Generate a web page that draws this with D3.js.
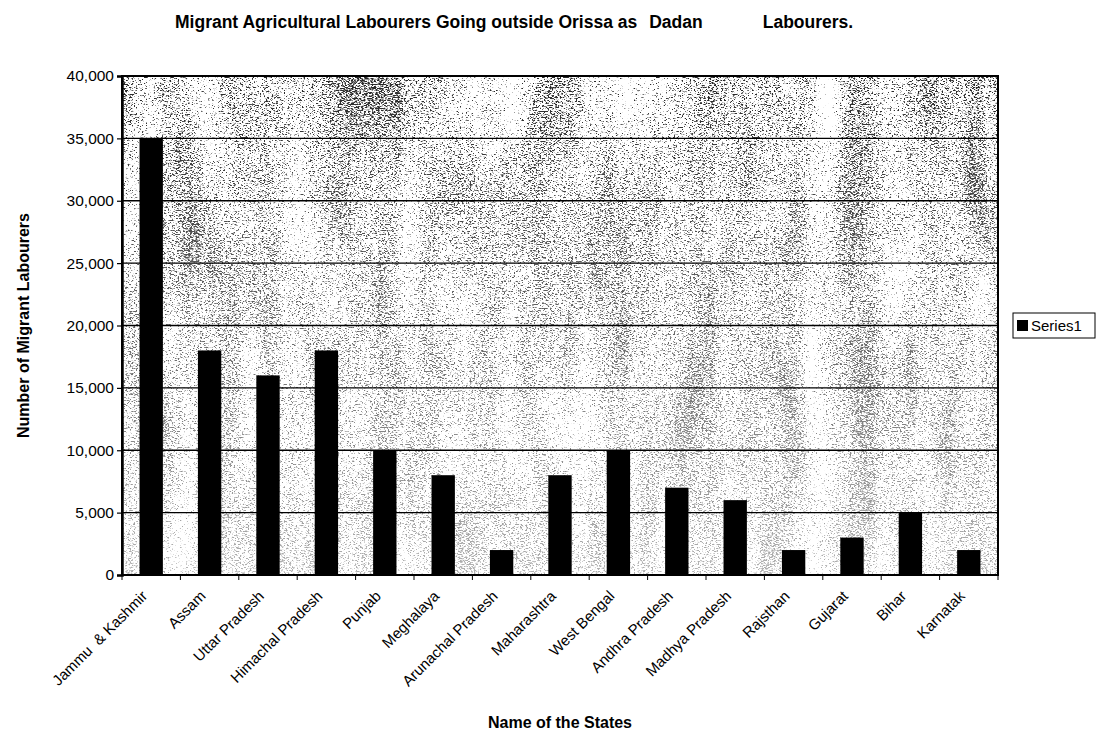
<!DOCTYPE html>
<html>
<head>
<meta charset="utf-8">
<script src="https://cdn.jsdelivr.net/npm/d3@7"></script>
<style>
  html, body { margin: 0; padding: 0; background: #fff; }
  svg { display: block; font-family: "Liberation Sans", Arial, sans-serif; }
</style>
</head>
<body>
<svg id="chart" width="1106" height="733"></svg>
<script>
// Migrant agricultural labourers by destination state
const states = ["Jammu  & Kashmir", "Assam", "Uttar Pradesh", "Himachal Pradesh", "Punjab",
  "Meghalaya", "Arunachal Pradesh", "Maharashtra", "West Bengal", "Andhra Pradesh",
  "Madhya Pradesh", "Rajsthan", "Gujarat", "Bihar", "Karnatak"];
const labourers = [35000, 18000, 16000, 18000, 10000, 8000, 2000, 8000, 10000, 7000, 6000, 2000, 3000, 5000, 2000];
const yTicks = [0, 5000, 10000, 15000, 20000, 25000, 30000, 35000, 40000];
const seriesName = "Series1";
const titleParts = ["Migrant Agricultural Labourers Going outside Orissa as", "Dadan", "Labourers."];

const svg = d3.select("#chart");
const plot = { left: 122, right: 998, top: 76, bottom: 575 };

// grainy halftone fill for the plot area: fine streaky noise, lightly modulated
const defs = svg.append("defs");
const f = defs.append("filter").attr("id", "grain")
  .attr("x", 0).attr("y", 0).attr("width", 1).attr("height", 1)
  .attr("color-interpolation-filters", "sRGB");
f.append("feTurbulence").attr("type", "fractalNoise").attr("baseFrequency", "0.5 1.3")
  .attr("numOctaves", 2).attr("seed", 5).attr("result", "fine");
f.append("feTurbulence").attr("type", "fractalNoise").attr("baseFrequency", "0.025 0.006")
  .attr("numOctaves", 2).attr("seed", 17).attr("result", "coarse");
f.append("feComposite").attr("in", "fine").attr("in2", "coarse").attr("operator", "arithmetic")
  .attr("k1", 0).attr("k2", 0.75).attr("k3", 0.26).attr("k4", 0).attr("result", "mix");
f.append("feColorMatrix").attr("in", "mix").attr("type", "matrix")
  .attr("values", "0 0 0 0 0  0 0 0 0 0  0 0 0 0 0  9 0 0 0 -4.75").attr("result", "dots");
f.append("feComposite").attr("in", "SourceGraphic").attr("in2", "dots").attr("operator", "in");

// heavier grain toward the top of the plot
const grad = defs.append("linearGradient").attr("id", "grainFade")
  .attr("x1", 0).attr("y1", 0).attr("x2", 0).attr("y2", 1);
grad.append("stop").attr("offset", "0%").attr("stop-color", "#000").attr("stop-opacity", 0.85);
grad.append("stop").attr("offset", "60%").attr("stop-color", "#000").attr("stop-opacity", 0.55);
grad.append("stop").attr("offset", "100%").attr("stop-color", "#000").attr("stop-opacity", 0.3);

const x = d3.scaleBand().domain(states).range([plot.left, plot.right]).paddingInner(0.6).paddingOuter(0.3);
const y = d3.scaleLinear().domain([0, 40000]).range([plot.bottom, plot.top]);

svg.append("rect")
  .attr("x", plot.left).attr("y", plot.top)
  .attr("width", plot.right - plot.left).attr("height", plot.bottom - plot.top)
  .attr("fill", "#fff");
svg.append("rect")
  .attr("x", plot.left).attr("y", plot.top)
  .attr("width", plot.right - plot.left).attr("height", plot.bottom - plot.top)
  .attr("fill", "url(#grainFade)")
  .attr("filter", "url(#grain)");

// horizontal gridlines
svg.append("g").selectAll("line").data(yTicks.filter(d => d > 0)).join("line")
  .attr("x1", plot.left).attr("x2", plot.right)
  .attr("y1", d => y(d)).attr("y2", d => y(d))
  .attr("stroke", "#000").attr("stroke-width", 1.4);

// bars
svg.append("g").selectAll("rect").data(labourers).join("rect")
  .attr("x", (d, i) => x(states[i]))
  .attr("y", d => y(d))
  .attr("width", x.bandwidth())
  .attr("height", d => y(0) - y(d))
  .attr("fill", "#000");

// plot border
svg.append("rect")
  .attr("x", plot.left).attr("y", plot.top)
  .attr("width", plot.right - plot.left).attr("height", plot.bottom - plot.top)
  .attr("fill", "none").attr("stroke", "#000").attr("stroke-width", 2);

// y axis
const yAxis = svg.append("g").attr("transform", `translate(${plot.left},0)`)
  .call(d3.axisLeft(y).tickValues(yTicks).tickSize(5).tickPadding(3).tickFormat(d3.format(",")));
yAxis.select(".domain").attr("stroke-width", 2.5);
yAxis.selectAll(".tick line").attr("stroke-width", 1.2);
yAxis.selectAll("text").attr("font-size", 15.5).attr("fill", "#000")
  .attr("font-family", "'Liberation Sans', Arial, sans-serif");

// x axis: ticks on category boundaries
const bounds = d3.range(states.length + 1).map(i => plot.left + i * (plot.right - plot.left) / states.length);
svg.append("g").selectAll("line").data(bounds).join("line")
  .attr("x1", d => d).attr("x2", d => d)
  .attr("y1", plot.bottom).attr("y2", plot.bottom + 5)
  .attr("stroke", "#000").attr("stroke-width", 1);

svg.append("g").selectAll("text").data(states).join("text")
  .attr("transform", d => `translate(${x(d) + x.bandwidth() / 2 - 3},${plot.bottom + 22}) rotate(-45)`)
  .attr("text-anchor", "end")
  .attr("font-size", 15)
  .attr("fill", "#000")
  .style("white-space", "pre")
  .text(d => d);

// chart title
const title = svg.append("text")
  .attr("x", 175).attr("y", 28)
  .attr("font-size", 17.5).attr("font-weight", "bold")
  .style("white-space", "pre");
title.append("tspan").text(titleParts[0]);
title.append("tspan").attr("dx", 12).text(titleParts[1]);
title.append("tspan").attr("dx", 60).text(titleParts[2]);

svg.append("text")
  .attr("x", 560).attr("y", 728)
  .attr("text-anchor", "middle")
  .attr("font-size", 16).attr("font-weight", "bold")
  .text("Name of the States");

svg.append("text")
  .attr("transform", `translate(29,${(plot.top + plot.bottom) / 2}) rotate(-90)`)
  .attr("text-anchor", "middle")
  .attr("font-size", 16).attr("font-weight", "bold")
  .text("Number of Migrant Labourers");

// legend
const lg = svg.append("g").attr("transform", "translate(1013,313)");
lg.append("rect").attr("width", 82).attr("height", 25)
  .attr("fill", "#fff").attr("stroke", "#000").attr("stroke-width", 1);
lg.append("rect").attr("x", 4).attr("y", 7).attr("width", 11).attr("height", 11).attr("fill", "#000");
lg.append("text").attr("x", 18).attr("y", 18).attr("font-size", 15).attr("fill", "#000").text(seriesName);
</script>
</body>
</html>
